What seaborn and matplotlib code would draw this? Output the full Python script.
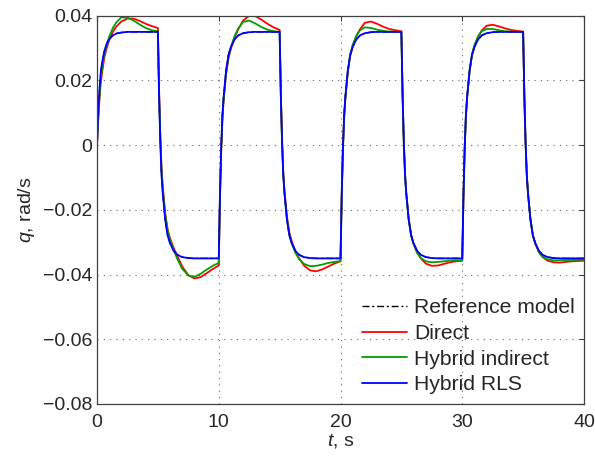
import matplotlib
matplotlib.use("Agg")
import matplotlib.pyplot as plt
import numpy as np
import pandas as pd
import seaborn as sns

# ---------------- data ----------------
series_order = ["Reference model", "Direct", "Hybrid indirect", "Hybrid RLS"]
step_times = [0, 5, 10, 15, 20, 25, 30, 35]  # start of each half period, s
offsets = [0, 0.1, 0.2, 0.3, 0.4, 0.6, 0.8, 1.0, 1.3, 1.6, 2.0, 2.5, 3.0, 3.5, 4.0, 4.5, 5.0]

reference_model = [
    [0, 0.0099, 0.017, 0.0221, 0.025, 0.029, 0.0314, 0.0327, 0.0339, 0.0345, 0.0348, 0.035, 0.035, 0.035, 0.035, 0.035, 0.035],
    [0.035, 0.0152, 0.0009, -0.0092, -0.0149, -0.023, -0.0279, -0.0303, -0.0327, -0.0339, -0.0346, -0.0349, -0.035, -0.035, -0.035, -0.035, -0.035],
    [-0.035, -0.0152, -0.0009, 0.0092, 0.0149, 0.023, 0.0279, 0.0303, 0.0327, 0.0339, 0.0346, 0.0349, 0.035, 0.035, 0.035, 0.035, 0.035],
    [0.035, 0.0152, 0.0009, -0.0092, -0.0149, -0.023, -0.0279, -0.0303, -0.0327, -0.0339, -0.0346, -0.0349, -0.035, -0.035, -0.035, -0.035, -0.035],
    [-0.035, -0.0152, -0.0009, 0.0092, 0.0149, 0.023, 0.0279, 0.0303, 0.0327, 0.0339, 0.0346, 0.0349, 0.035, 0.035, 0.035, 0.035, 0.035],
    [0.035, 0.0152, 0.0009, -0.0092, -0.0149, -0.023, -0.0279, -0.0303, -0.0327, -0.0339, -0.0346, -0.0349, -0.035, -0.035, -0.035, -0.035, -0.035],
    [-0.035, -0.0152, -0.0009, 0.0092, 0.0149, 0.023, 0.0279, 0.0303, 0.0327, 0.0339, 0.0346, 0.0349, 0.035, 0.035, 0.035, 0.035, 0.035],
    [0.035, 0.0152, 0.0009, -0.0092, -0.0149, -0.023, -0.0279, -0.0303, -0.0327, -0.0339, -0.0346, -0.0349, -0.035, -0.035, -0.035, -0.035, -0.035],
]

direct = [
    [0, 0.008, 0.014, 0.019, 0.022, 0.027, 0.030, 0.0325, 0.035, 0.0367, 0.0382, 0.0391, 0.0391, 0.0384, 0.0375, 0.0368, 0.0362],
    [0.0362, 0.017, 0.003, -0.007, -0.0128, -0.021, -0.026, -0.0288, -0.0318, -0.0343, -0.0375, -0.0402, -0.0412, -0.0408, -0.0396, -0.0383, -0.0372],
    [-0.0372, -0.017, -0.002, 0.008, 0.0138, 0.0218, 0.0268, 0.0298, 0.0333, 0.0358, 0.0385, 0.0400, 0.0399, 0.0388, 0.0375, 0.0364, 0.0356],
    [0.0356, 0.016, 0.0015, -0.0085, -0.0142, -0.022, -0.027, -0.0298, -0.0328, -0.0350, -0.0372, -0.0387, -0.0390, -0.0384, -0.0375, -0.0366, -0.0359],
    [-0.0359, -0.0158, -0.0012, 0.0088, 0.0145, 0.0226, 0.0277, 0.0306, 0.0337, 0.0358, 0.0378, 0.0382, 0.0375, 0.0366, 0.0359, 0.0355, 0.0352],
    [0.0352, 0.0153, 0.001, -0.009, -0.0147, -0.0227, -0.0277, -0.0304, -0.0332, -0.0350, -0.0366, -0.0373, -0.0372, -0.0367, -0.0362, -0.0359, -0.0357],
    [-0.0357, -0.0157, -0.0011, 0.009, 0.0147, 0.0228, 0.0278, 0.0306, 0.0335, 0.0354, 0.0369, 0.0372, 0.0367, 0.0361, 0.0356, 0.0353, 0.0351],
    [0.0351, 0.0152, 0.0009, -0.0091, -0.0148, -0.0228, -0.0278, -0.0304, -0.0330, -0.0346, -0.0357, -0.0362, -0.0363, -0.0361, -0.0359, -0.0358, -0.0357],
]

hybrid_indirect = [
    [0, 0.0085, 0.015, 0.020, 0.0235, 0.028, 0.031, 0.0335, 0.0362, 0.038, 0.0395, 0.0394, 0.0385, 0.0373, 0.0362, 0.0355, 0.0352],
    [0.0352, 0.016, 0.002, -0.008, -0.0135, -0.0215, -0.0265, -0.0293, -0.0325, -0.0352, -0.0382, -0.0403, -0.0407, -0.0398, -0.0385, -0.0373, -0.0364],
    [-0.0364, -0.016, -0.0015, 0.0085, 0.0143, 0.0224, 0.0274, 0.0303, 0.0337, 0.036, 0.0381, 0.0385, 0.0376, 0.0365, 0.0357, 0.0352, 0.035],
    [0.035, 0.0152, 0.0009, -0.0092, -0.0149, -0.0228, -0.0278, -0.0305, -0.0333, -0.0352, -0.0367, -0.0374, -0.0373, -0.0369, -0.0364, -0.0361, -0.0358],
    [-0.0358, -0.0157, -0.0011, 0.009, 0.0147, 0.0228, 0.028, 0.031, 0.0338, 0.0355, 0.0364, 0.0362, 0.0357, 0.0353, 0.0351, 0.035, 0.035],
    [0.035, 0.0152, 0.0009, -0.0092, -0.0149, -0.0229, -0.0279, -0.0306, -0.0333, -0.0349, -0.0359, -0.0362, -0.0361, -0.0359, -0.0357, -0.0356, -0.0356],
    [-0.0356, -0.0156, -0.001, 0.0091, 0.0148, 0.0229, 0.028, 0.0309, 0.0336, 0.0352, 0.0359, 0.0359, 0.0355, 0.0352, 0.0351, 0.035, 0.035],
    [0.035, 0.0152, 0.0009, -0.0092, -0.0149, -0.0229, -0.0279, -0.0305, -0.0331, -0.0345, -0.0353, -0.0356, -0.0356, -0.0355, -0.0355, -0.0354, -0.0354],
]

hybrid_rls = [
    [0, 0.0099, 0.017, 0.0221, 0.025, 0.029, 0.0314, 0.0327, 0.0339, 0.0345, 0.0348, 0.035, 0.035, 0.035, 0.035, 0.035, 0.035],
    [0.035, 0.0152, 0.0009, -0.0092, -0.0149, -0.023, -0.0279, -0.0303, -0.0327, -0.0339, -0.0346, -0.0349, -0.035, -0.035, -0.035, -0.035, -0.035],
    [-0.035, -0.0152, -0.0009, 0.0092, 0.0149, 0.023, 0.0279, 0.0303, 0.0327, 0.0339, 0.0346, 0.0349, 0.035, 0.035, 0.035, 0.035, 0.035],
    [0.035, 0.0152, 0.0009, -0.0092, -0.0149, -0.023, -0.0279, -0.0303, -0.0327, -0.0339, -0.0346, -0.0349, -0.035, -0.035, -0.035, -0.035, -0.035],
    [-0.035, -0.0152, -0.0009, 0.0092, 0.0149, 0.023, 0.0279, 0.0303, 0.0327, 0.0339, 0.0346, 0.0349, 0.035, 0.035, 0.035, 0.035, 0.035],
    [0.035, 0.0152, 0.0009, -0.0092, -0.0149, -0.023, -0.0279, -0.0303, -0.0327, -0.0339, -0.0346, -0.0349, -0.035, -0.035, -0.035, -0.035, -0.035],
    [-0.035, -0.0152, -0.0009, 0.0092, 0.0149, 0.023, 0.0279, 0.0303, 0.0327, 0.0339, 0.0346, 0.0349, 0.035, 0.035, 0.035, 0.035, 0.035],
    [0.035, 0.0152, 0.0009, -0.0092, -0.0149, -0.023, -0.0279, -0.0303, -0.0327, -0.0339, -0.0346, -0.0349, -0.035, -0.035, -0.035, -0.035, -0.035],
]

x_ticks = [0, 10, 20, 30, 40]
y_ticks = [-0.08, -0.06, -0.04, -0.02, 0, 0.02, 0.04]
y_tick_labels = ["\u22120.08", "\u22120.06", "\u22120.04", "\u22120.02", "0", "0.02", "0.04"]

# ---------------- long-form table ----------------
all_series = {
    "Reference model": reference_model,
    "Direct": direct,
    "Hybrid indirect": hybrid_indirect,
    "Hybrid RLS": hybrid_rls,
}
rows = []
for name in series_order:
    for t0, seg in zip(step_times, all_series[name]):
        for dt, val in zip(offsets, seg):
            rows.append((name, t0 + dt, val))
df = pd.DataFrame(rows, columns=["series", "t", "q"])

# ---------------- style ----------------
sns.set_style("white")
plt.rcParams["font.family"] = ["Liberation Sans", "DejaVu Sans"]
plt.rcParams["mathtext.fontset"] = "custom"
plt.rcParams["mathtext.rm"] = "Liberation Sans"
plt.rcParams["mathtext.it"] = "Liberation Sans:italic"
plt.rcParams["axes.unicode_minus"] = True

palette = {"Reference model": "black", "Direct": "#ff0000",
           "Hybrid indirect": "#00a000", "Hybrid RLS": "#0000ff"}
dashes = {"Reference model": (5, 2, 1.5, 2), "Direct": "",
          "Hybrid indirect": "", "Hybrid RLS": ""}

fig = plt.figure(figsize=(5.95, 4.57), dpi=100)
ax = fig.add_axes([97 / 595, 1 - 404 / 457, (584 - 97) / 595, (404 - 15.7) / 457])

sns.lineplot(data=df, x="t", y="q", hue="series", hue_order=series_order,
             style="series", style_order=series_order, palette=palette,
             dashes=dashes, estimator=None, sort=False, linewidth=1.3,
             legend=False, ax=ax)
ax.lines[0].set_linewidth(1.0)

ax.set_xlim(0, 40)
ax.set_ylim(-0.08, 0.04)
ax.set_xticks(x_ticks)
ax.set_xticklabels([str(v) for v in x_ticks])
ax.set_yticks(y_ticks)
ax.set_yticklabels(y_tick_labels)

ax.grid(True, color="0.4", linestyle=(0, (1, 4.7)), linewidth=0.8)
ax.set_axisbelow(True)
for sp in ax.spines.values():
    sp.set_color("0.25")
    sp.set_linewidth(0.9)
ax.tick_params(axis="both", direction="in", top=True, right=True,
               length=3.5, width=0.8, color="0.25", labelsize=14)
ax.tick_params(axis="x", pad=7)
ax.tick_params(axis="y", pad=3.5)

ax.set_xlabel("$t$, s", fontsize=14, labelpad=1)
ax.set_ylabel("$q$, rad/s", fontsize=14, labelpad=4)

ax.legend(handles=ax.lines[:4], labels=series_order, loc="lower right",
          frameon=False, fontsize=15.2, handlelength=2.1, handletextpad=0.33,
          labelspacing=0.32, borderpad=0, borderaxespad=0.45)

fig.savefig("out.png", dpi=100)
